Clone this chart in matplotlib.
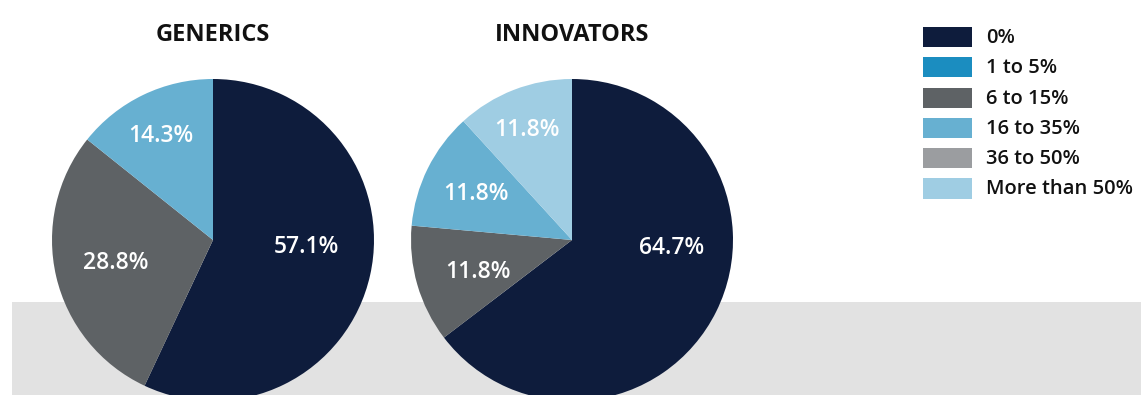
import numpy as np
import matplotlib
matplotlib.use("Agg")
import matplotlib.pyplot as plt
from matplotlib.patches import Rectangle

plt.rcParams['font.family'] = ['Open Sans', 'DejaVu Sans']

# Share of respondents by category
categories = ["0%", "1 to 5%", "6 to 15%", "16 to 35%", "36 to 50%", "More than 50%"]
colors = ["#0e1c3c", "#1b8dc0", "#5e6265", "#67b0d1", "#9b9da0", "#9fcde3"]

generics_cats = ["0%", "6 to 15%", "16 to 35%"]
generics_vals = [57.1, 28.8, 14.3]

innovators_cats = ["0%", "6 to 15%", "16 to 35%", "More than 50%"]
innovators_vals = [64.7, 11.8, 11.8, 11.8]

# label placement (angle shift in degrees, radial fraction) per slice
generics_lbl = [(8, 0.58), (0.2, 0.62), (0.9, 0.725)]
innovators_lbl = [(21.8, 0.62), (2.8, 0.62), (0.6, 0.66), (1.2, 0.74)]

W, H = 1141, 395
fig = plt.figure(figsize=(W / 100, H / 100), dpi=100)
fig.patch.set_facecolor("white")

# grey band along the bottom
fig.add_artist(Rectangle((12 / W, 0), 1 - 12 / W, 93 / H, transform=fig.transFigure,
                         facecolor="#e2e2e2", edgecolor="none", zorder=0))

R = 161


def draw_pie(cx, cy, title, cats, vals, lbl):
    ax = fig.add_axes([(cx - R) / W, (H - cy - R) / H, 2 * R / W, 2 * R / H])
    ax.axis("off")
    cols = [colors[categories.index(c)] for c in cats]
    wedges, _ = ax.pie(vals, colors=cols, startangle=90, counterclock=False,
                       radius=1, wedgeprops=dict(linewidth=0))
    ax.set_xlim(-1, 1)
    ax.set_ylim(-1, 1)
    ax.set_aspect("equal")
    for w, v, (shift, r) in zip(wedges, vals, lbl):
        ang = np.deg2rad((w.theta1 + w.theta2) / 2 + shift)
        ax.text(r * np.cos(ang), r * np.sin(ang), f"{v:.1f}%", color="white",
                fontsize=16.5, fontweight="semibold", ha="center", va="center")
    fig.text(cx / W, 1 - 35 / H, title, fontsize=17, fontweight="bold",
             ha="center", va="center", color="#111111")


draw_pie(213, 240, "GENERICS", generics_cats, generics_vals, generics_lbl)
draw_pie(572, 240, "INNOVATORS", innovators_cats, innovators_vals, innovators_lbl)

# legend
for i, (c, col) in enumerate(zip(categories, colors)):
    yc = 37 + i * 30.3
    fig.add_artist(Rectangle((923 / W, 1 - (yc + 10) / H), 49 / W, 20 / H,
                             transform=fig.transFigure, facecolor=col,
                             edgecolor="none"))
    fig.text(986 / W, 1 - (yc + 1) / H, c, fontsize=14.5, fontweight="semibold",
             ha="left", va="center", color="#111111")

fig.savefig("out.png", dpi=100)
